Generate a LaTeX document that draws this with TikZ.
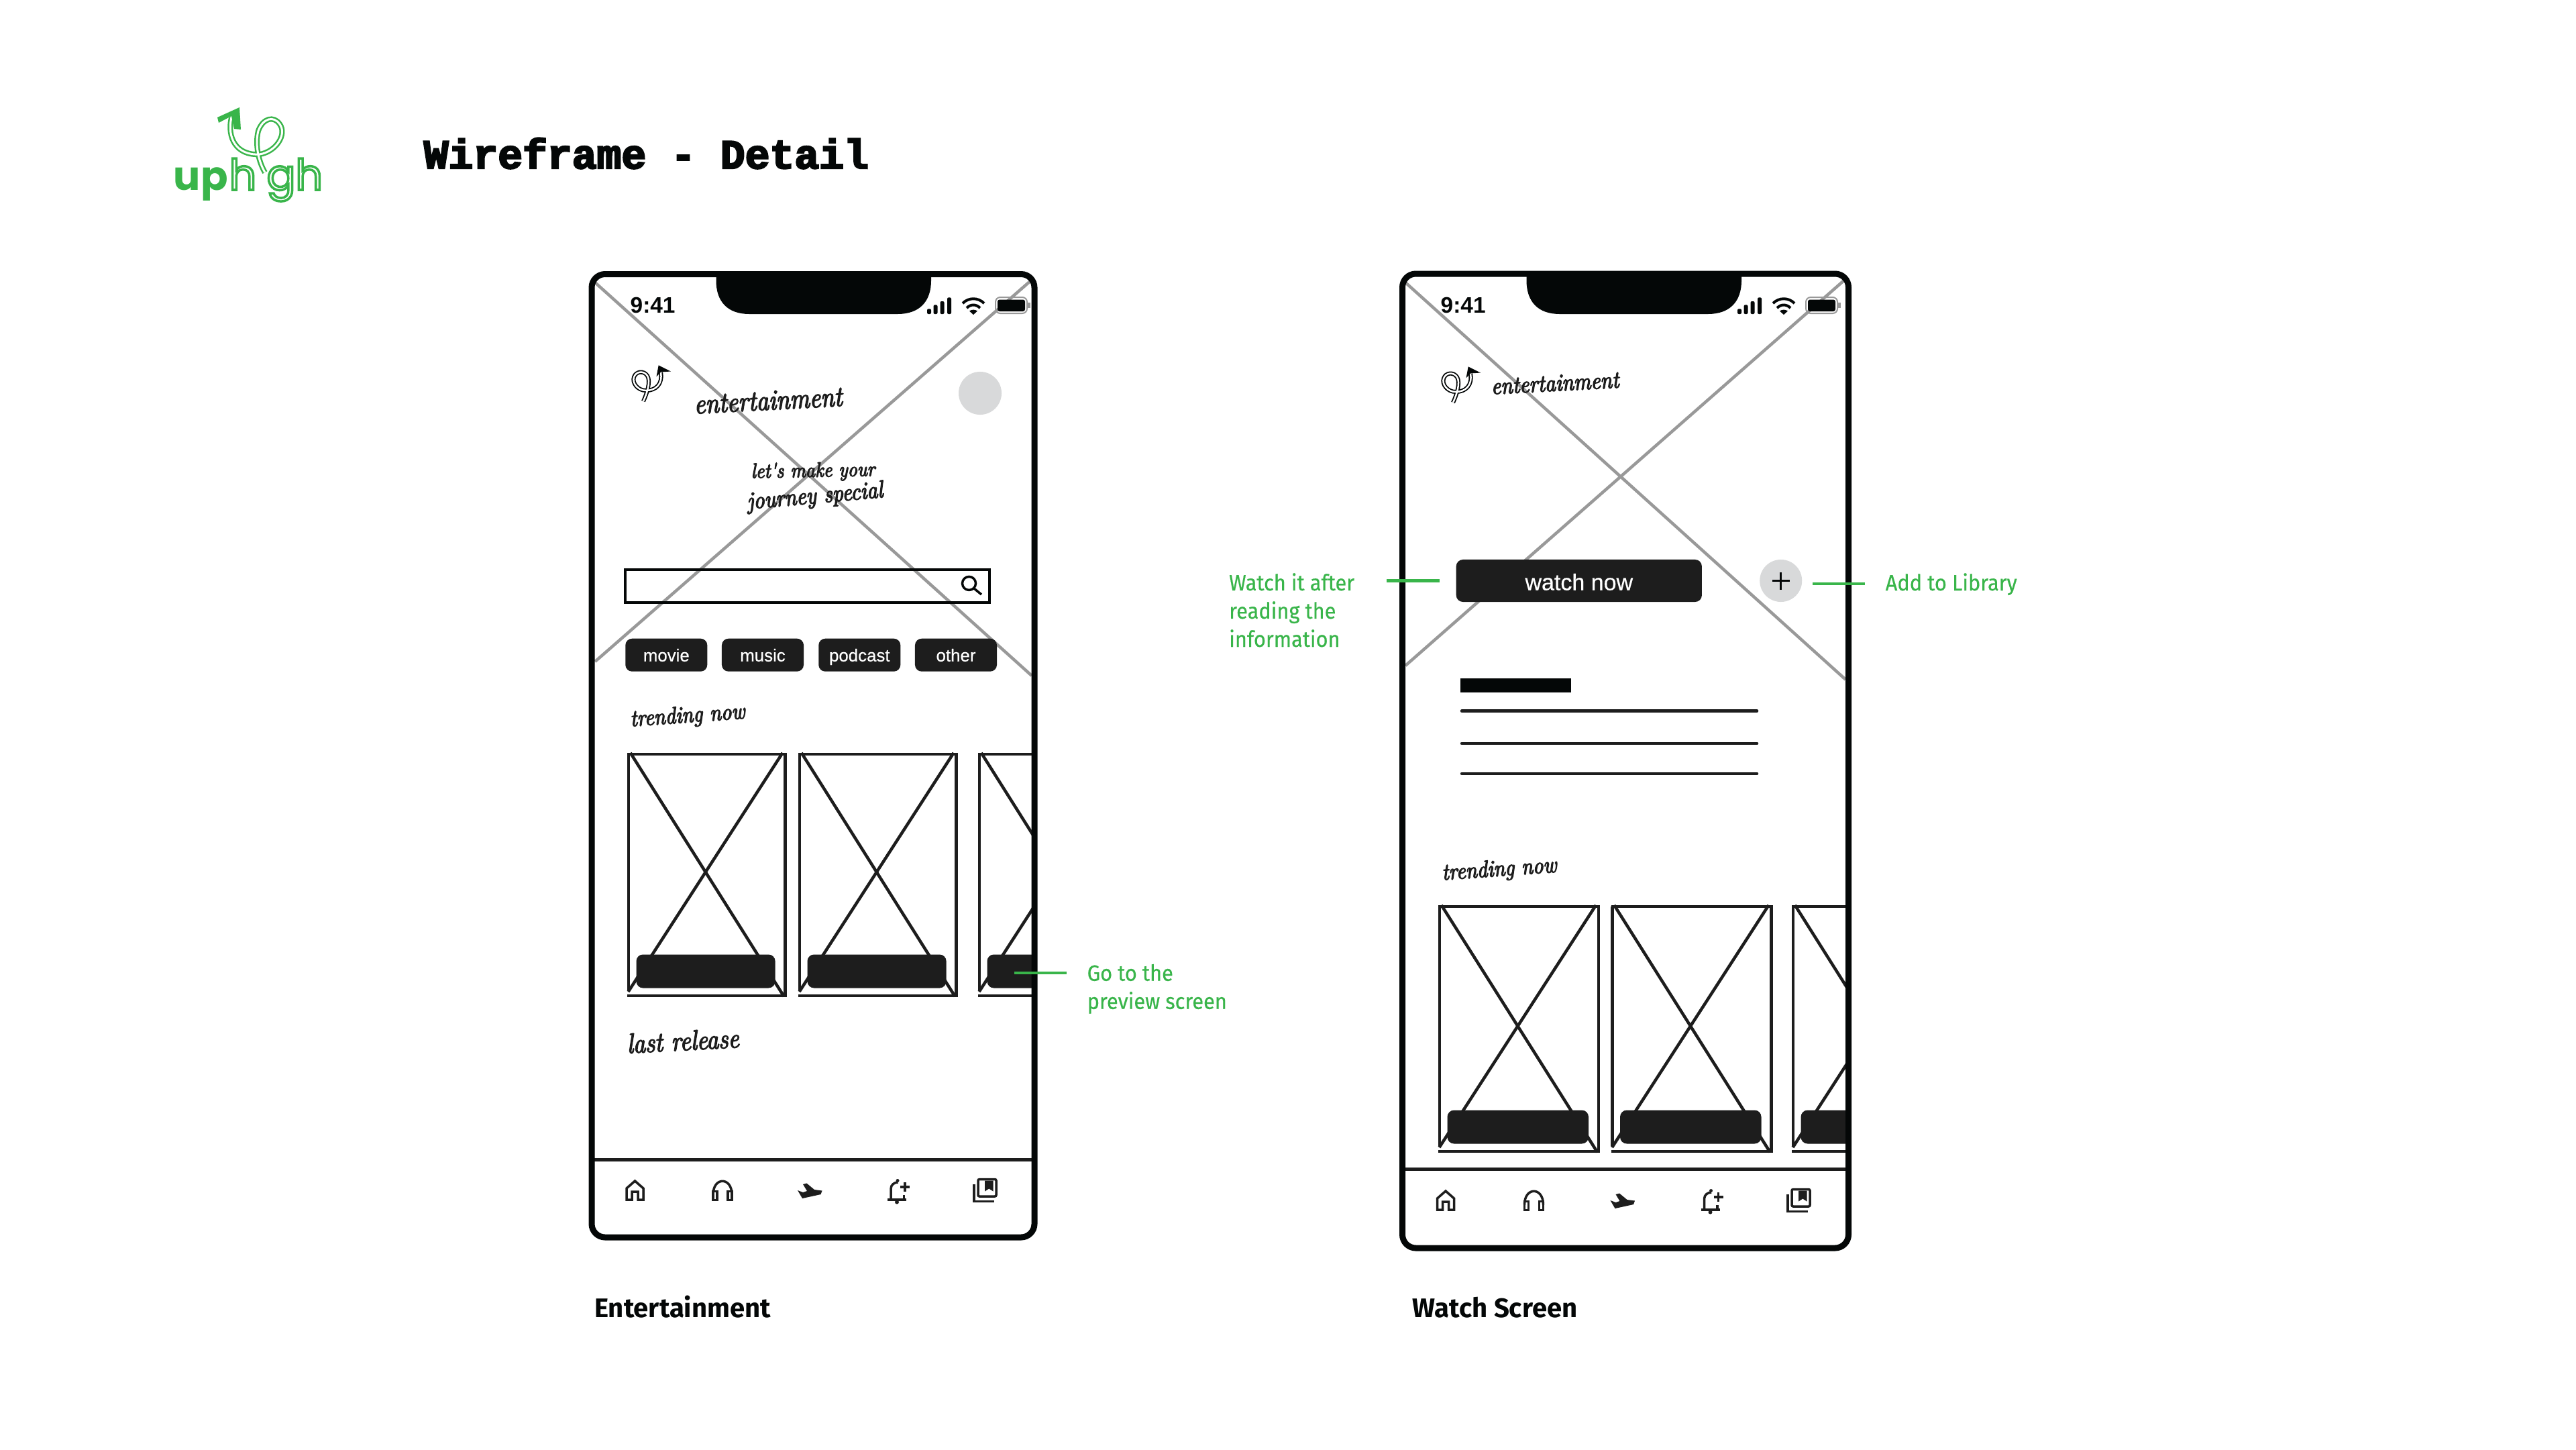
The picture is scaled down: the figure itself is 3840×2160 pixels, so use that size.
\documentclass[tikz,border=0pt]{standalone}
\usepackage{fontspec}
\setsansfont{Liberation Sans}
\newfontfamily\notefont[FakeStretch=0.93, FakeBold=0.4]{Fira Sans}
\newfontfamily\capfont{Fira Sans}
\newfontfamily\logofont{Poppins}
\newfontfamily\btnfont[FakeBold=0.5]{Liberation Sans}
\newfontfamily\handfont[FakeStretch=0.86, FakeBold=3.5]{Latin Modern Roman}
\newfontfamily\titlefont[BoldFeatures={FakeBold=4}]{Liberation Mono}
\newcommand{\outlined}[1]{\special{pdf:code 1 Tr 1 w}#1\special{pdf:code 0 Tr}}

\definecolor{upgreen}{HTML}{39B54A}
\definecolor{inkblack}{HTML}{040707}
\definecolor{barblack}{HTML}{1D1D1D}
\definecolor{crossgrey}{HTML}{999999}
\definecolor{softgrey}{HTML}{D8D9DA}

\tikzset{
    phoneframe/.style={draw=inkblack, line width=0.09cm, rounded corners=0.2cm},
    crossline/.style={draw=crossgrey, line width=0.045cm},
    cardline/.style={draw=barblack, line width=0.045cm},
    iconline/.style={draw=barblack, line width=0.035cm},
    notestem/.style={draw=upgreen, line width=0.045cm},
    darkbtn/.style={fill=barblack, text=white, rounded corners=0.1cm, inner sep=0pt},
    softdot/.style={circle, fill=softgrey, inner sep=0pt},
    hand/.style={inner sep=0pt, text=barblack, font=\handfont\itshape\fontsize{#1}{#1}\selectfont},
    note/.style={anchor=base west, inner sep=0pt, align=left, text=upgreen, font=\notefont\fontsize{9.4}{11.95}\selectfont},
    caption/.style={anchor=base west, inner sep=0pt, text=inkblack, font=\capfont\bfseries\fontsize{11.4}{13}\selectfont},
    logoletter/.style={anchor=base west, inner sep=0pt, text=upgreen, font=\logofont\fontsize{18}{18}\selectfont},
    % status bar, drawn where the first phone has it
    pics/statusbar/.style={code={
        \fill[inkblack] (1067.5,408) -- (1067.5,418) .. controls (1067.5,450) and (1085,468) .. (1117,468)
            -- (1338,468) .. controls (1370,468) and (1388,450) .. (1388,418) -- (1388,408) -- cycle;
        \node (-time) [anchor=base west, inner sep=0pt, text=inkblack, font=\sffamily\bfseries\fontsize{9.5}{11}\selectfont] at (939,466) {9:41};
        \foreach \x/\y in {1382/460.3, 1391.5/454.4, 1401.5/449, 1412/443.4} {
            \fill[inkblack, rounded corners=0.02cm] (\x,\y) rectangle (\x+6,468);
        }
        \draw[inkblack, line width=0.04cm] (1435,452) .. controls (1444,443) and (1458,443) .. (1467,452);
        \draw[inkblack, line width=0.04cm] (1441,459) .. controls (1447,453) and (1455,453) .. (1461,459);
        \fill[inkblack] (1445,463.5) .. controls (1449,461) and (1453,461) .. (1457,463.5) -- (1451,469) -- cycle;
        \draw[crossgrey, line width=0.02cm, rounded corners=0.07cm] (1484,443) rectangle (1531,467);
        \fill[inkblack, rounded corners=0.03cm] (1487,446.5) rectangle (1528,464);
        \fill[crossgrey] (1532,451) rectangle (1535.5,459);
    }},
    pics/minilogo/.style={code={
        \draw[draw=inkblack, double=white, line width=0.018cm, double distance=0.025cm]
            (985,555) .. controls (988,572) and (978,582) .. (963,582)
            .. controls (950,582) and (942,570) .. (945,562)
            .. controls (948,553) and (960,552) .. (965,560)
            .. controls (970,568) and (965,585) .. (959,598);
        \fill[inkblack] (981.7,544.4) -- (1000,553.5) -- (985,554.5) -- (978.5,561.4) -- cycle;
    }},
    % one poster with its dark strip
    pics/moviecard/.style 2 args={code={
        \fill[barblack, rounded corners=0.1cm] (11.5,#2-61.5) rectangle (#1-15,#2-11.5);
        \draw[cardline] (-2,0) -- (#1+2,0);
        \draw[cardline] (0,0) -- (0,#2-8);
        \draw[cardline] (#1,0) -- (#1,#2);
        \draw[cardline] (-2,#2) -- (#1+2,#2);
        \draw[cardline] (2.7,-2) -- (#1-2,#2+1);
        \draw[cardline] (#1-4,-2) -- (-0.5,#2-6);
    }},
    pics/tabhome/.style={code={
        \draw[iconline] (-12.5,13.5) -- (-12.5,-3.5) -- (0,-14.5) -- (12.5,-3.5) -- (12.5,13.5)
            -- (4.5,13.5) -- (4.5,1.5) -- (-4.5,1.5) -- (-4.5,13.5) -- cycle;
    }},
    pics/tabphones/.style={code={
        \draw[iconline] (-14,6) .. controls (-14,-21) and (14,-21) .. (14,6);
        \draw[iconline] (-14,1) rectangle (-8,14);
        \draw[iconline] (8,1) rectangle (14,14);
    }},
    pics/tabplane/.style={code={
        \fill[barblack] (-18,-0.5) -- (-11,11.5) -- (16.5,5.5) -- (18.5,0) -- (7,-1.5) -- (-4.5,-11)
            -- (-10,-9.5) -- (-4,0.5) -- (-10,2.5) -- cycle;
    }},
    pics/tabbell/.style={code={
        \draw[iconline] (-16.5,13.5) -- (11.5,13.5);
        \draw[iconline] (-11.5,13.5) -- (-11.5,-3) .. controls (-11.5,-9) and (-6,-12.5) .. (-1,-12.5);
        \draw[iconline] (8,13.5) -- (8,6);
        \fill[barblack] (-1.5,-15) circle (0.025cm);
        \fill[barblack] (-2.5,17) circle (0.03cm);
        \draw[iconline] (2.5,-5.5) -- (16.5,-5.5);
        \draw[iconline] (9.5,-12.5) -- (9.5,1.5);
    }},
    pics/tablibrary/.style={code={
        \draw[iconline, rounded corners=0.02cm] (-9.5,-17) rectangle (17.5,8.5);
        \draw[iconline] (-15.5,-10) -- (-15.5,16) -- (14.5,16);
        \fill[barblack] (0.5,-15) -- (13,-15) -- (13,1) -- (6.75,-3) -- (0.5,1) -- cycle;
    }},
}

\begin{document}
\begin{tikzpicture}[x=0.01cm, y=-0.01cm]
    \useasboundingbox (0,0) rectangle (3840,2160);
    \fill[white] (0,0) rectangle (3840,2160);

    % Logo and heading
    \draw[draw=upgreen, double=white, line width=0.025cm, double distance=0.03cm]
        (345,175) .. controls (338,205) and (352,232) .. (387,230)
        .. controls (412,226) and (428,200) .. (417,185)
        .. controls (408,172) and (392,176) .. (385,195)
        .. controls (380,215) and (385,240) .. (395,257);
    \fill[upgreen] (357,160) -- (359,193) -- (349,192) -- (345,173) -- (326,183) -- (324,175) -- cycle;
    \node (logoup) [logoletter, font=\logofont\bfseries\fontsize{17}{17}\selectfont] at (258,283) {up};
    \node (logoha) [logoletter] at (341,283) {\outlined{h}};
    \node (logogh) [logoletter] at (397,283) {\outlined{gh}};
    \node (heading) [anchor=base west, inner sep=0pt, text=inkblack, font=\titlefont\bfseries\fontsize{17.46}{20}\selectfont] at (631,251) {Wireframe - Detail};

    % Entertainment phone
    \draw[crossline] (887,421) -- (1538,1007);
    \draw[crossline] (1538,417) -- (887,986);
    \pic (stone) at (0,0) {statusbar};
    \pic at (0,0) {minilogo};
    \node (entone) [hand=12.2, rotate=3] at (1145,597) {entertainment};
    \node (avatar) [softdot, minimum size=0.64cm] at (1461,586) {};
    \node (slogana) [hand=8.9, rotate=1] at (1212,703) {let's make your};
    \node (sloganb) [hand=10.4, rotate=5] at (1215,741) {journey special};

    \draw[draw=inkblack, line width=0.04cm] (932,849) rectangle (1475,898);
    \draw[draw=inkblack, line width=0.035cm] (1444.5,869.4) circle (0.1cm);
    \draw[draw=inkblack, line width=0.035cm] (1452,877) -- (1463,886);

    \foreach \label/\xpos in {movie/993.3, music/1137, podcast/1281.3, other/1425} {
        \node (\label) [darkbtn, minimum width=1.22cm, minimum height=0.49cm, text height=0.24cm, text depth=0.05cm,
            font=\btnfont\fontsize{7.35}{9}\selectfont] at (\xpos,976.2) {\label};
    }
    \node (trendone) [hand=10, rotate=4] at (1025,1068) {trending now};

    \begin{scope}
        \clip (887,413) rectangle (1538,1840);
        \foreach \xpos in {937, 1192, 1460} {
            \pic at (\xpos,1124) {moviecard={233.6}{360}};
        }
    \end{scope}
    \node (lastrel) [hand=11.9, rotate=3] at (1018,1551) {last release};
    \draw[draw=barblack, line width=0.047cm] (885,1728.5) -- (1540,1728.5);
    \draw[phoneframe] (882,408.5) rectangle (1542,1844);

    % Watch phone
    \draw[crossline] (2095,421) -- (2751,1012.6);
    \draw[crossline] (2751,416) -- (2095,992);
    \pic (sttwo) at (1208,0) {statusbar};
    \pic at (1207,2) {minilogo};
    \node (enttwo) [hand=10.3, rotate=3] at (2318,571) {entertainment};
    \node (watchnow) [darkbtn, minimum width=3.66cm, minimum height=0.63cm, text height=0.3cm, text depth=0.02cm,
        font=\btnfont\fontsize{9.67}{11}\selectfont] at (2353.8,865.5) {watch now};
    \node (addbtn) [softdot, minimum size=0.63cm] at (2654.7,865.5) {};
    \draw[draw=inkblack, line width=0.035cm] ([xshift=-0.13cm]addbtn.center) -- ([xshift=0.13cm]addbtn.center);
    \draw[draw=inkblack, line width=0.035cm] ([yshift=-0.13cm]addbtn.center) -- ([yshift=0.13cm]addbtn.center);

    \fill[inkblack] (2177,1011) rectangle (2342,1032);
    \foreach \y in {1059.6, 1108, 1153} {
        \draw[draw=barblack, line width=0.045cm, line cap=round] (2179,\y) -- (2619,\y);
    }
    \node (trendtwo) [hand=10, rotate=4] at (2235,1297) {trending now};

    \begin{scope}
        \clip (2095,413) rectangle (2751,1856);
        \foreach \xpos in {2146, 2403.5, 2673} {
            \pic at (\xpos,1351) {moviecard={237}{365}};
        }
    \end{scope}
    \draw[draw=barblack, line width=0.047cm] (2093,1742.5) -- (2753,1742.5);
    \draw[phoneframe] (2090.5,408) rectangle (2755.5,1860);

    % Tab bar icons of both phones
    \foreach \icon/\xa/\xb in {tabhome/946.5/2155, tabphones/1077/2286.5, tabplane/1207/2418.5, tabbell/1339.5/2552, tablibrary/1467.5/2680.5} {
        \pic at (\xa,1774.5) {\icon};
        \pic at (\xb,1789.5) {\icon};
    }

    % Notes beside the phones
    \coordinate (goa) at (1512,1450);
    \coordinate (gob) at (1590,1450);
    \draw[notestem] (goa) -- (gob);
    \node (gonote) [note] at (1620,1503.7) {Go to the\\preview screen};

    \coordinate (wata) at (2067,865.7);
    \coordinate (watb) at (2146,865.7);
    \draw[notestem] (wata) -- (watb);
    \node (watnote) [note] at (1831.5,964) {Watch it after\\reading the\\information};

    \coordinate (adda) at (2702,870);
    \coordinate (addb) at (2780,870);
    \draw[notestem] (adda) -- (addb);
    \node (addnote) [note] at (2810,880) {Add to Library};

    % Captions
    \node (capone) [caption] at (885.5,1963) {Entertainment};
    \node (captwo) [caption] at (2105,1963) {Watch Screen};
\end{tikzpicture}
\end{document}
